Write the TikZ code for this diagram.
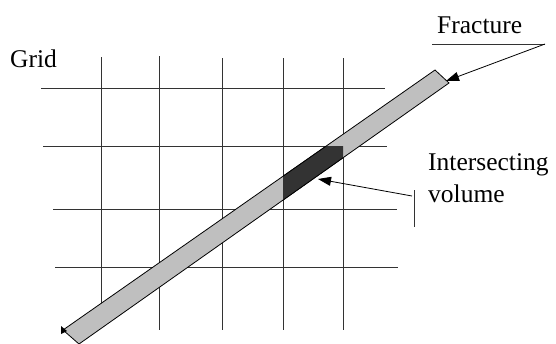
\documentclass[tikz,border=0pt]{standalone}
\usepackage{fontspec}
\setmainfont{Liberation Serif}
\usetikzlibrary{arrows.meta}
\tikzset{
  gridline/.style={draw=black!80, line width=0.9pt},
  stripe/.style={fill=black!25, draw=black, line width=0.8pt},
  darkvol/.style={fill=black!80, draw=black, line width=0.8pt},
  callout/.style={draw=black, line width=0.8pt, -{Triangle[length=13pt,width=9pt]}},
  thinrule/.style={draw=black!80, line width=0.9pt},
  lbl/.style={font=\fontsize{25.5}{32}\selectfont, inner sep=0pt, anchor=base west, align=left}
}
\begin{document}
\begin{tikzpicture}[x=1pt,y=-1pt]
\useasboundingbox (0,0) rectangle (556,343);
% grid
\draw[gridline] (41,88) -- (385,88);
\draw[gridline] (43,146) -- (387,146);
\draw[gridline] (53,209) -- (397,209);
\draw[gridline] (55,267) -- (398,267);
\draw[gridline] (101,57) -- (101,312);
\draw[gridline] (159,56) -- (159,330);
\draw[gridline] (222,58) -- (222,330);
\draw[gridline] (283,58) -- (283,330);
\draw[gridline] (343,58) -- (343,330);
% fracture strip
\coordinate (sA) at (63,330);
\coordinate (sB) at (435,70);
\coordinate (sC) at (449,83);
\coordinate (sD) at (79,344);
\draw[stripe] (sA) -- (sB) -- (sC) -- (sD) -- cycle;
\fill[black] (61,326) -- (61,334) -- (67,331) -- cycle;
% intersecting volume
\begin{scope}
\clip (283,146) rectangle (343,209);
\draw[darkvol] (sA) -- (sB) -- (sC) -- (sD) -- cycle;
\end{scope}
\coordinate (volpt) at (318,179);
\coordinate (fracpt) at (446,81);
% labels
\node[lbl] (grid) at (10,67) {Grid};
\node[lbl] (frac) at (437,33) {Fracture};
\node[lbl] (inter) at (428,202) {Intersecting\\volume};
\coordinate (fl) at (432,44);
\coordinate (fr) at (545,44);
\draw[thinrule] (fl) -- (fr);
\draw[callout] (fr) -- (fracpt);
\coordinate (vt) at (414,190);
\coordinate (vb) at (414,227);
\draw[thinrule] (vt) -- (vb);
\draw[callout] (412,196) -- (volpt);
\end{tikzpicture}
\end{document}
